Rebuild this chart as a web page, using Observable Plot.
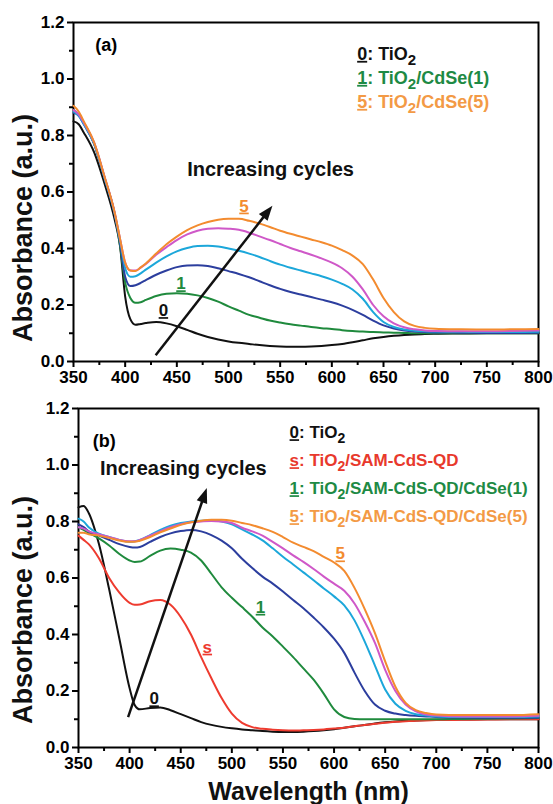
<!DOCTYPE html>
<html>
<head>
<meta charset="utf-8">
<script src="https://cdn.jsdelivr.net/npm/d3@7"></script>
<script src="https://cdn.jsdelivr.net/npm/@observablehq/plot@0.6"></script>
<style>
  body { margin: 0; background: #fff; }
  #chart { width: 553px; height: 804px; }
  #chart svg { display: block; }
</style>
</head>
<body>
<div id="chart"></div>
<script>
// ---------- Panel (a): TiO2 / CdSe(n) ----------
const wavelengthA = [350,355,360,370,380,390,395,400,405,410,415,420,430,440,450,460,470,480,490,500,
  510,520,530,540,550,560,570,580,590,600,610,620,630,640,650,660,670,680,690,700,725,750,775,800];
const tio2A = [0.85,0.84,0.81,0.74,0.63,0.50,0.41,0.23,0.15,0.13,0.133,0.136,0.14,0.135,0.125,0.112,0.098,0.087,0.078,0.071,
  0.066,0.062,0.058,0.055,0.053,0.052,0.052,0.053,0.055,0.058,0.062,0.068,0.075,0.082,0.087,0.091,0.094,0.096,0.097,0.098,0.099,0.10,0.10,0.10];
const cdse1A = [0.89,0.875,0.845,0.77,0.65,0.52,0.41,0.28,0.225,0.208,0.21,0.218,0.232,0.24,0.242,0.24,0.234,0.225,0.212,0.195,
  0.18,0.165,0.155,0.145,0.138,0.132,0.127,0.122,0.118,0.115,0.111,0.108,0.106,0.104,0.103,0.102,0.101,0.10,0.10,0.10,0.10,0.10,0.10,0.10];
const cdse2A = [0.88,0.87,0.84,0.77,0.65,0.52,0.42,0.30,0.267,0.27,0.278,0.288,0.307,0.322,0.334,0.34,0.341,0.338,0.33,0.32,
  0.31,0.298,0.284,0.27,0.257,0.246,0.237,0.228,0.219,0.21,0.198,0.183,0.165,0.145,0.128,0.117,0.11,0.106,0.104,0.103,0.102,0.101,0.101,0.102];
const cdse3A = [0.885,0.87,0.84,0.77,0.65,0.52,0.43,0.33,0.30,0.302,0.312,0.325,0.35,0.372,0.39,0.402,0.409,0.41,0.407,0.40,
  0.392,0.382,0.37,0.356,0.343,0.332,0.322,0.312,0.302,0.29,0.275,0.255,0.222,0.175,0.14,0.122,0.113,0.109,0.107,0.106,0.105,0.104,0.104,0.105];
const cdse4A = [0.89,0.875,0.845,0.775,0.655,0.525,0.435,0.35,0.322,0.322,0.332,0.345,0.378,0.405,0.43,0.45,0.463,0.47,0.472,0.47,
  0.466,0.456,0.443,0.43,0.416,0.402,0.39,0.378,0.365,0.35,0.33,0.30,0.255,0.20,0.16,0.135,0.121,0.114,0.11,0.108,0.107,0.107,0.108,0.11];
const cdse5A = [0.905,0.885,0.85,0.775,0.655,0.525,0.435,0.35,0.322,0.32,0.333,0.347,0.382,0.415,0.442,0.465,0.482,0.494,0.502,0.505,
  0.505,0.498,0.488,0.476,0.463,0.452,0.442,0.432,0.422,0.41,0.394,0.375,0.345,0.29,0.225,0.175,0.142,0.126,0.119,0.116,0.114,0.113,0.114,0.115];

// ---------- Panel (b): TiO2 / SAM-CdS-QD / CdSe(n) ----------
const wavelengthB = [350,355,360,370,380,390,400,405,410,420,430,440,450,460,470,480,490,500,510,520,
  530,540,550,560,570,580,590,600,610,620,630,640,650,660,670,680,690,700,725,750,775,800];
const tio2B = [0.85,0.855,0.83,0.72,0.56,0.385,0.21,0.15,0.135,0.14,0.142,0.132,0.118,0.104,0.09,0.08,0.073,0.068,0.064,0.061,
  0.058,0.056,0.055,0.055,0.056,0.058,0.061,0.065,0.07,0.075,0.08,0.085,0.089,0.092,0.094,0.096,0.097,0.098,0.099,0.10,0.10,0.10];
const samB = [0.75,0.735,0.72,0.67,0.60,0.548,0.512,0.505,0.506,0.518,0.522,0.505,0.462,0.40,0.32,0.245,0.175,0.12,0.087,0.072,
  0.066,0.063,0.061,0.06,0.061,0.062,0.064,0.067,0.07,0.075,0.08,0.084,0.088,0.091,0.093,0.095,0.096,0.097,0.098,0.099,0.10,0.10];
const cdse1B = [0.78,0.77,0.76,0.74,0.715,0.685,0.662,0.657,0.658,0.678,0.697,0.704,0.70,0.69,0.662,0.615,0.567,0.53,0.497,0.463,
  0.425,0.393,0.357,0.32,0.28,0.24,0.19,0.135,0.108,0.101,0.10,0.10,0.10,0.10,0.10,0.10,0.10,0.10,0.101,0.102,0.103,0.104];
const cdse2B = [0.79,0.78,0.765,0.75,0.735,0.72,0.71,0.708,0.71,0.728,0.745,0.758,0.766,0.77,0.765,0.752,0.732,0.705,0.668,0.635,
  0.605,0.58,0.552,0.522,0.493,0.46,0.425,0.385,0.335,0.265,0.20,0.152,0.13,0.12,0.115,0.112,0.11,0.108,0.106,0.105,0.105,0.105];
const cdse3B = [0.81,0.80,0.78,0.757,0.745,0.735,0.728,0.73,0.735,0.752,0.77,0.785,0.795,0.80,0.803,0.804,0.80,0.79,0.772,0.754,
  0.733,0.705,0.675,0.648,0.62,0.592,0.563,0.535,0.503,0.45,0.375,0.29,0.205,0.155,0.13,0.118,0.113,0.11,0.108,0.108,0.108,0.11];
const cdse4B = [0.78,0.775,0.765,0.755,0.745,0.735,0.73,0.73,0.735,0.75,0.765,0.78,0.79,0.797,0.80,0.802,0.80,0.795,0.778,0.765,
  0.75,0.728,0.705,0.68,0.657,0.632,0.605,0.58,0.555,0.51,0.445,0.37,0.275,0.20,0.152,0.128,0.117,0.113,0.11,0.11,0.11,0.112];
const cdse5B = [0.76,0.76,0.755,0.75,0.742,0.733,0.728,0.728,0.732,0.745,0.762,0.775,0.788,0.797,0.803,0.806,0.806,0.803,0.795,0.787,
  0.776,0.763,0.745,0.725,0.71,0.695,0.675,0.655,0.625,0.565,0.49,0.405,0.305,0.215,0.158,0.132,0.122,0.117,0.115,0.115,0.115,0.118];

// Axis ticks
const xMajor = [350,400,450,500,550,600,650,700,750,800];
const xMinor = [375,425,475,525,575,625,675,725,775];
const yMajor = [0,0.2,0.4,0.6,0.8,1.0,1.2];
const yMinor = [0.1,0.3,0.5,0.7,0.9,1.1];

// Curve tags (label, wavelength, absorbance)
const tagsA = [["5",515,0.55],["1",454,0.275],["0",437,0.18]];
const tagsB = [["0",424,0.172],["s",476,0.355],["1",528,0.496],["5",606,0.685]];

// "Increasing cycles" arrows: [from nm, from A, to nm, to A]
const arrowA = [430,0.02,543,0.55];
const arrowB = [399,0.106,476,0.917];

// Legend entries: [tag, before subscript, subscript, after subscript]
const legendA = [["0","TiO","2",""],["1","TiO","2","/CdSe(1)"],["5","TiO","2","/CdSe(5)"]];
const legendB = [["0","TiO","2",""],["s","TiO","2","/SAM-CdS-QD"],["1","TiO","2","/SAM-CdS-QD/CdSe(1)"],["5","TiO","2","/SAM-CdS-QD/CdSe(5)"]];

const C = {
  black: "#111111", green: "#1f8a3d", blue: "#2c3e9e", cyan: "#1ca7da",
  magenta: "#cf58c8", orange: "#f38b2f", red: "#ee3b2f"
};
const FONT = "'Liberation Sans', Arial, Helvetica, sans-serif";

function series(wl, values, color) {
  return {rows: wl.map((w, i) => ({wl: w, a: values[i]})), color};
}

function drawPanel(opts) {
  const {height, mt, mb, ml, mr, lines, tags, tagColors, arrow, panelTag, panelTagPos,
         captionPos, legend, legendColors, legendPos, legendStep, legendSize, yTitleShift, xTitle} = opts;
  const marks = [
    Plot.axisX({ticks: xMajor, tickSize: 6, tickPadding: 3, strokeWidth: 2, tickFormat: "d", label: null, fontSize: 17, fontWeight: "bold"}),
    Plot.axisX({ticks: xMinor, tickSize: 4, strokeWidth: 2, text: null, label: null}),
    Plot.axisY({ticks: yMajor, tickSize: 6, tickPadding: 3, strokeWidth: 2, tickFormat: ".1f", label: null, fontSize: 17, fontWeight: "bold"}),
    Plot.axisY({ticks: yMinor, tickSize: 4, strokeWidth: 2, text: null, label: null}),
    Plot.frame({stroke: "black", strokeWidth: 2})
  ];
  for (const s of lines) {
    marks.push(Plot.line(s.rows, {x: "wl", y: "a", stroke: s.color, strokeWidth: 2, curve: "monotone-x"}));
  }
  marks.push(Plot.text(tags, {
    x: d => d[1], y: d => d[2], text: d => d[0],
    fill: (d, i) => tagColors[i], fontSize: 17, fontWeight: "bold", ariaLabel: "curve tag"
  }));
  marks.push(Plot.text([panelTag], {x: panelTagPos[0], y: panelTagPos[1], text: d => d, textAnchor: "start", fontSize: 18, fontWeight: "bold", fill: "black"}));
  marks.push(Plot.text(["Increasing cycles"], {x: captionPos[0], y: captionPos[1], text: d => d, textAnchor: "start", fontSize: 20, fontWeight: "bold", fill: "#111"}));
  marks.push(Plot.text(["Absorbance (a.u.)"], {frameAnchor: "left", text: d => d, rotate: -90, textAnchor: "middle", lineAnchor: "middle", dx: 23 - ml, dy: yTitleShift, fontSize: 27, fontWeight: "bold", fill: "#111"}));
  if (xTitle) {
    marks.push(Plot.text([xTitle], {frameAnchor: "bottom", text: d => d, textAnchor: "middle", lineAnchor: "middle", dy: 44, fontSize: 25, fontWeight: "bold", fill: "#111"}));
  }

  const fig = Plot.plot({
    width: 553, height,
    marginTop: mt, marginBottom: mb, marginLeft: ml, marginRight: mr,
    x: {domain: [350, 800]},
    y: {domain: [0, 1.2]},
    style: {fontFamily: FONT, fontSize: "16px", fontWeight: "bold", color: "black", background: "white", overflow: "visible"},
    marks
  });

  const svg = d3.select(fig);
  // Underline the curve tags
  const tagSet = new Set(tags.map(d => d[0]));
  svg.selectAll("text").filter(function() {
    return tagSet.has(this.textContent);
  }).attr("text-decoration", "underline").style("text-decoration", "underline");

  const xs = v => fig.scale("x").apply(v);
  const ys = v => fig.scale("y").apply(v);

  // Arrow with a filled head, placed through the chart scales
  const [n1, a1, n2, a2] = arrow;
  const x1 = xs(n1), y1 = ys(a1), x2 = xs(n2), y2 = ys(a2);
  const ang = Math.atan2(y2 - y1, x2 - x1);
  const L = 15, W = 5.5;
  const bx = x2 - L * Math.cos(ang), by = y2 - L * Math.sin(ang);
  const g = svg.append("g").attr("aria-label", "arrow");
  g.append("line").attr("x1", x1).attr("y1", y1).attr("x2", bx + 2 * Math.cos(ang)).attr("y2", by + 2 * Math.sin(ang))
    .attr("stroke", "#111").attr("stroke-width", 2.5);
  g.append("path")
    .attr("d", `M${x2},${y2}L${bx + W * Math.sin(ang)},${by - W * Math.cos(ang)}L${bx - W * Math.sin(ang)},${by + W * Math.cos(ang)}Z`)
    .attr("fill", "#111");

  // Legend with underlined tags and subscripts
  const lg = svg.append("g").attr("aria-label", "legend")
    .attr("font-family", FONT).attr("font-weight", "bold").attr("font-size", legendSize)
    .attr("text-anchor", "start");
  legend.forEach((e, i) => {
    const t = lg.append("text")
      .attr("x", xs(legendPos[0])).attr("y", ys(legendPos[1]) + i * legendStep)
      .attr("fill", legendColors[i]);
    t.append("tspan").attr("text-decoration", "underline").text(e[0]);
    t.append("tspan").text(": " + e[1]);
    t.append("tspan").attr("font-size", legendSize - 3).attr("dy", 5).text(e[2]);
    if (e[3]) t.append("tspan").attr("dy", -5).text(e[3]);
  });
  return fig;
}

const root = document.getElementById("chart");

root.appendChild(drawPanel({
  height: 398, mt: 22, mb: 37, ml: 73, mr: 15,
  lines: [
    series(wavelengthA, tio2A, C.black),
    series(wavelengthA, cdse1A, C.green),
    series(wavelengthA, cdse2A, C.blue),
    series(wavelengthA, cdse3A, C.cyan),
    series(wavelengthA, cdse4A, C.magenta),
    series(wavelengthA, cdse5A, C.orange)
  ],
  tags: tagsA, tagColors: [C.orange, C.green, C.black],
  arrow: arrowA,
  panelTag: "(a)", panelTagPos: [371, 1.12],
  captionPos: [460, 0.68],
  legend: legendA, legendColors: ["#111", "#1e8a44", "#f39a45"],
  legendPos: [625, 1.066], legendStep: 24, legendSize: 18,
  yTitleShift: 36
}));

root.appendChild(drawPanel({
  height: 406, mt: 10, mb: 57, ml: 78, mr: 15,
  lines: [
    series(wavelengthB, tio2B, C.black),
    series(wavelengthB, samB, C.red),
    series(wavelengthB, cdse1B, C.green),
    series(wavelengthB, cdse2B, C.blue),
    series(wavelengthB, cdse3B, C.cyan),
    series(wavelengthB, cdse4B, C.magenta),
    series(wavelengthB, cdse5B, C.orange)
  ],
  tags: tagsB, tagColors: [C.black, C.red, C.green, C.orange],
  arrow: arrowB,
  panelTag: "(b)", panelTagPos: [364, 1.083],
  captionPos: [371, 0.987],
  legend: legendB, legendColors: ["#111", "#e8392c", "#1e8a44", "#f39a45"],
  legendPos: [557, 1.093], legendStep: 28, legendSize: 17,
  yTitleShift: 32,
  xTitle: "Wavelength (nm)"
}));
</script>
</body>
</html>
